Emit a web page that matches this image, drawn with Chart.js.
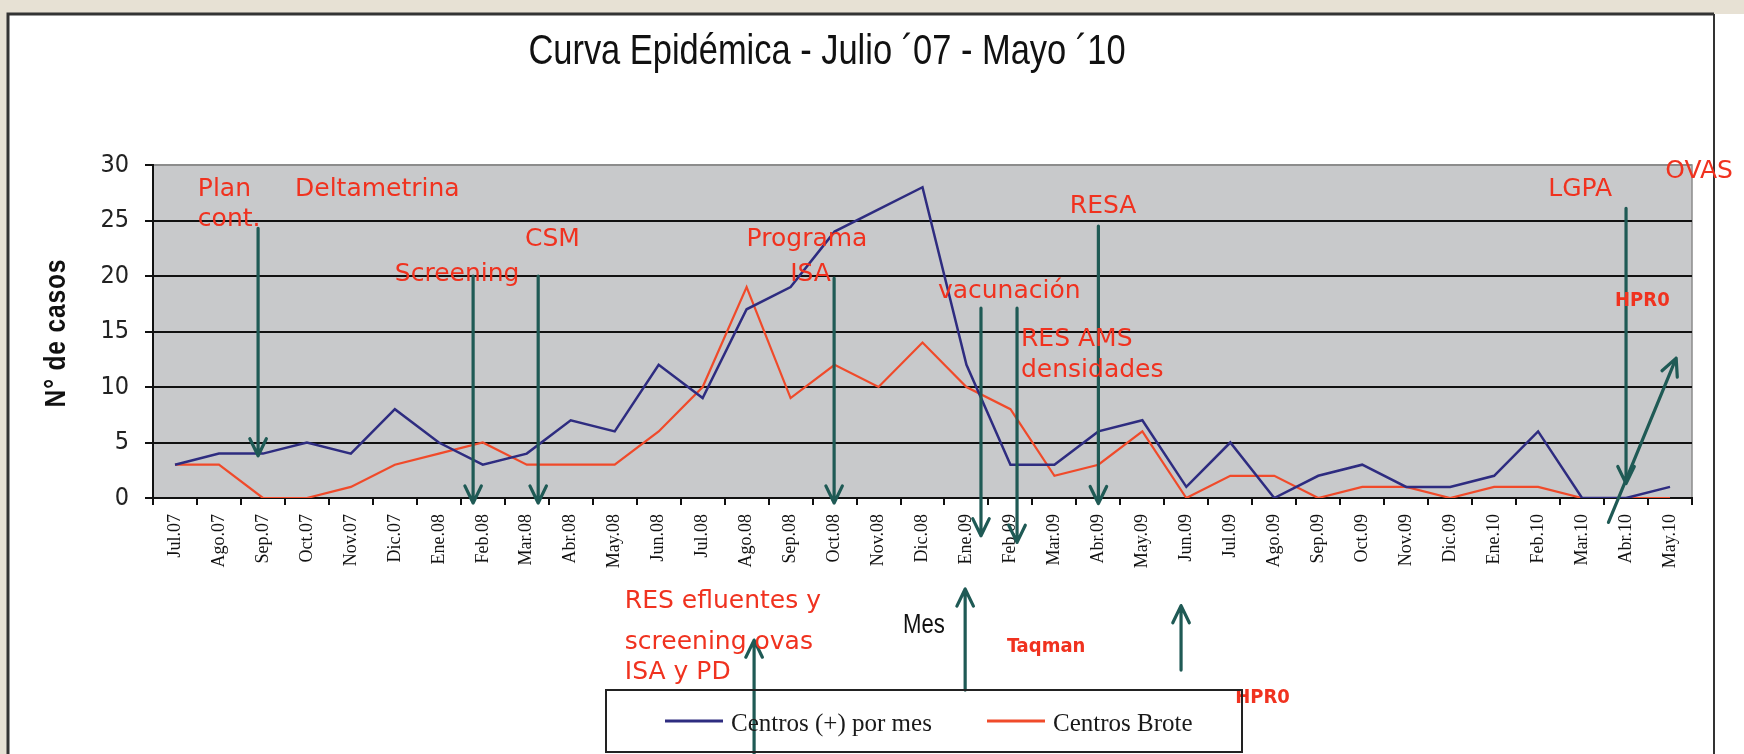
<!DOCTYPE html>
<html>
<head>
<meta charset="utf-8">
<script src="https://cdn.jsdelivr.net/npm/chart.js@4.4.1/dist/chart.umd.min.js"></script>
<style>
  html, body { margin: 0; padding: 0; overflow: hidden; background: #e7e1d4; }
  canvas { display: block; }
</style>
</head>
<body>
<canvas id="curva" width="1744" height="754"></canvas>
<script>
// data
const months = ['Jul.07', 'Ago.07', 'Sep.07', 'Oct.07', 'Nov.07', 'Dic.07',
  'Ene.08', 'Feb.08', 'Mar.08', 'Abr.08', 'May.08', 'Jun.08', 'Jul.08', 'Ago.08', 'Sep.08', 'Oct.08', 'Nov.08', 'Dic.08',
  'Ene.09', 'Feb.09', 'Mar.09', 'Abr.09', 'May.09', 'Jun.09', 'Jul.09', 'Ago.09', 'Sep.09', 'Oct.09', 'Nov.09', 'Dic.09',
  'Ene.10', 'Feb.10', 'Mar.10', 'Abr.10', 'May.10'];
const centrosPos = [3, 4, 4, 5, 4, 8, 5, 3, 4, 7, 6, 12, 9, 17, 19, 24, 26, 28, 12, 3, 3, 6, 7, 1, 5, 0, 2, 3, 1, 1, 2, 6, 0, 0, 1];
const centrosBrote = [3, 3, 0, 0, 1, 3, 4, 5, 3, 3, 3, 6, 10, 19, 9, 12, 10, 14, 10, 8, 2, 3, 6, 0, 2, 2, 0, 1, 1, 0, 1, 1, 0, 0, 0];
const yTicks = [0, 5, 10, 15, 20, 25, 30];

const title = 'Curva Epidémica - Julio ´07 - Mayo ´10';

// red notes, placed at (category index, value) on the chart's scales
const notes = [
  ['Plan', 0.52, 27.8], ['cont.', 0.52, 25.1], ['Deltametrina', 2.73, 27.8],
  ['Screening', 5.0, 20.1], ['CSM', 7.96, 23.3], ['Programa', 13.0, 23.3], ['ISA', 13.99, 20.1],
  ['vacunación', 17.35, 18.6], ['RES AMS', 19.24, 14.3], ['densidades', 19.24, 11.5],
  ['RESA', 20.35, 26.3], ['LGPA', 31.23, 27.8], ['OVAS', 33.89, 29.4],
  ['RES efluentes y', 10.23, -9.3], ['screening ovas', 10.23, -13.0], ['ISA y PD', 10.23, -15.7]
];
const smallNotes = [['HPR0', 32.75, 17.8], ['Taqman', 18.92, -13.4], ['HPR0', 24.11, -18.0]];

// arrows: from (idx, value) to (idx, value), head at the end
const arrows = [
  [1.89, 24.3, 1.89, 3.8], [6.78, 20, 6.78, -0.45], [8.26, 20, 8.26, -0.45],
  [14.99, 19.8, 14.99, -0.45], [18.33, 17.1, 18.33, -3.4], [19.15, 17.1, 19.15, -4],
  [21.0, 24.5, 21.0, -0.5], [33.0, 26.1, 33.0, 1.3], [32.6, -2.2, 34.14, 12.6],
  [13.17, -23, 13.17, -12.8], [17.97, -17.3, 17.97, -8.2], [22.88, -15.5, 22.88, -9.7]
];

const NARROW = "'Liberation Sans Narrow', 'DejaVu Sans Condensed', sans-serif";
const RED = '#f0321f';
const TEAL = '#1f5a55';

function arrow(ctx, x1, y1, x2, y2) {
  const a = Math.atan2(y2 - y1, x2 - x1);
  const len = 19, spread = 0.45;
  ctx.beginPath();
  ctx.moveTo(x1, y1);
  ctx.lineTo(x2, y2);
  ctx.moveTo(x2 - len * Math.cos(a - spread), y2 - len * Math.sin(a - spread));
  ctx.lineTo(x2, y2);
  ctx.lineTo(x2 - len * Math.cos(a + spread), y2 - len * Math.sin(a + spread));
  ctx.stroke();
}

// narrow-looking text: Liberation Sans squeezed horizontally
function squeezed(ctx, text, x, y, size, sx, weight) {
  ctx.save();
  ctx.translate(x, y);
  ctx.scale(sx, 1);
  ctx.font = (weight || '') + ' ' + size + "px 'Liberation Sans', Arial, sans-serif";
  ctx.fillText(text, 0, 0);
  ctx.restore();
}

const decor = {
  id: 'decor',
  beforeDraw(chart) {
    const { ctx, chartArea: a } = chart;
    ctx.save();
    ctx.fillStyle = '#e7e1d4';
    ctx.fillRect(0, 0, chart.width, chart.height);
    ctx.fillStyle = '#ffffff';
    ctx.fillRect(8, 14, chart.width - 8, chart.height - 14);
    ctx.strokeStyle = '#333';
    ctx.lineWidth = 3;
    ctx.beginPath();
    ctx.moveTo(8, chart.height);
    ctx.lineTo(8, 14);
    ctx.lineTo(1714, 14);
    ctx.stroke();
    ctx.lineWidth = 2;
    ctx.beginPath();
    ctx.moveTo(1714, 14);
    ctx.lineTo(1714, chart.height);
    ctx.stroke();
    // plot area
    ctx.fillStyle = '#c8c9cb';
    ctx.fillRect(a.left, a.top, a.right - a.left, a.bottom - a.top);
    ctx.strokeStyle = '#8c8c8c';
    ctx.lineWidth = 1.5;
    ctx.beginPath();
    ctx.moveTo(a.left, a.top);
    ctx.lineTo(a.right, a.top);
    ctx.lineTo(a.right, a.bottom);
    ctx.stroke();
    ctx.restore();
  },
  afterDatasetsDraw(chart) {
    const { ctx, scales: { x, y } } = chart;
    ctx.save();
    ctx.strokeStyle = TEAL;
    ctx.lineWidth = 3.2;
    ctx.lineCap = 'round';
    ctx.lineJoin = 'round';
    arrows.forEach(r => arrow(ctx, x.getPixelForValue(r[0]), y.getPixelForValue(r[1]),
      x.getPixelForValue(r[2]), y.getPixelForValue(r[3])));
    ctx.fillStyle = RED;
    ctx.textBaseline = 'middle';
    ctx.textAlign = 'left';
    ctx.font = "25px 'DejaVu Sans', sans-serif";
    notes.forEach(n => ctx.fillText(n[0], x.getPixelForValue(n[1]), y.getPixelForValue(n[2])));
    ctx.font = "bold 20px 'DejaVu Sans Condensed', 'DejaVu Sans', sans-serif";
    smallNotes.forEach(n => ctx.fillText(n[0], x.getPixelForValue(n[1]), y.getPixelForValue(n[2])));
    ctx.restore();
  },
  afterDraw(chart) {
    const { ctx } = chart;
    ctx.save();
    ctx.fillStyle = '#111';
    ctx.textAlign = 'center';
    ctx.textBaseline = 'alphabetic';
    squeezed(ctx, title, 827, 64, 42, 0.82);
    // y title
    ctx.save();
    ctx.translate(57, 333);
    ctx.rotate(-Math.PI / 2);
    ctx.textBaseline = 'middle';
    ctx.letterSpacing = '1px';
    squeezed(ctx, 'N° de casos', 0, 0, 30, 0.82, 'bold');
    ctx.restore();
    ctx.textBaseline = 'middle';
    squeezed(ctx, 'Mes', 924, 626, 27, 0.82);
    // legend
    ctx.strokeStyle = '#222';
    ctx.lineWidth = 2;
    ctx.strokeRect(606, 690, 636, 62);
    ctx.textAlign = 'left';
    ctx.font = "25px 'Liberation Serif', serif";
    const lx = [665, 987];
    chart.data.datasets.forEach((ds, i) => {
      ctx.strokeStyle = ds.borderColor;
      ctx.lineWidth = 3;
      ctx.beginPath();
      ctx.moveTo(lx[i], 721);
      ctx.lineTo(lx[i] + 58, 721);
      ctx.stroke();
      ctx.fillStyle = '#1a1a1a';
      ctx.fillText(ds.label, lx[i] + 66, 724);
    });
    ctx.restore();
  }
};

new Chart(document.getElementById('curva'), {
  type: 'line',
  data: {
    labels: months,
    datasets: [
      { label: 'Centros (+) por mes', data: centrosPos, borderColor: '#2e2c80', borderWidth: 2.5, pointRadius: 0, tension: 0 },
      { label: 'Centros Brote', data: centrosBrote, borderColor: '#f04a2a', borderWidth: 2.2, pointRadius: 0, tension: 0 }
    ]
  },
  options: {
    responsive: false,
    animation: false,
    layout: { padding: { left: 93, right: 52, top: 165, bottom: 0 } },
    plugins: { legend: { display: false }, title: { display: false }, tooltip: { enabled: false } },
    scales: {
      x: {
        offset: true,
        grid: { offset: true, drawOnChartArea: false, drawTicks: true, tickLength: 7, color: '#111', lineWidth: 2 },
        border: { color: '#111', width: 2 },
        ticks: { autoSkip: false, minRotation: 90, maxRotation: 90, padding: 9, color: '#111',
          font: { family: "'Liberation Serif', serif", size: 18 } },
        afterFit: s => { s.height = 256; }
      },
      y: {
        min: 0, max: 30,
        afterBuildTicks: s => { s.ticks = yTicks.map(v => ({ value: v })); },
        grid: { color: c => (c.tick && c.tick.value === 30 ? '#8c8c8c' : '#111'), tickColor: '#111', lineWidth: 2, tickLength: 8 },
        border: { color: '#111', width: 2 },
        ticks: { padding: 16, color: '#222', font: { family: NARROW, size: 25 } },
        afterFit: s => { s.width = 60; }
      }
    }
  },
  plugins: [decor]
});
</script>
</body>
</html>
